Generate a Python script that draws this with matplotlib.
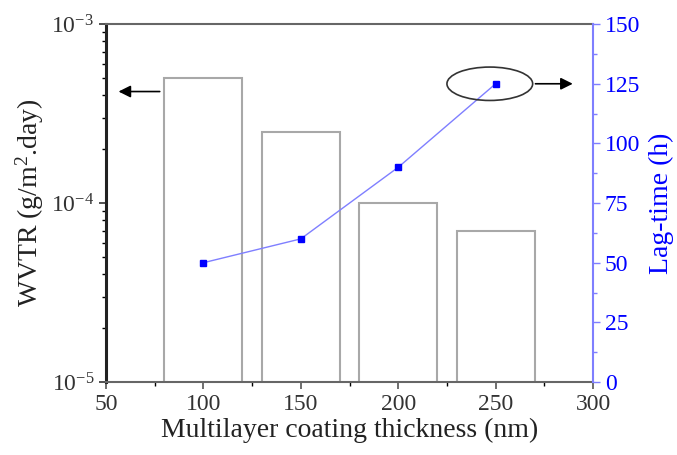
import matplotlib
matplotlib.use("Agg")
import matplotlib.pyplot as plt
from matplotlib.patches import Ellipse
from matplotlib.ticker import MultipleLocator, LogLocator, NullFormatter

plt.rcParams['font.family'] = ['Liberation Serif', 'DejaVu Serif']
plt.rcParams['mathtext.fontset'] = 'custom'
plt.rcParams['mathtext.rm'] = 'Liberation Serif'
plt.rcParams['mathtext.it'] = 'Liberation Serif:italic'
plt.rcParams['mathtext.bf'] = 'Liberation Serif:bold'

thickness = [100, 150, 200, 250]
wvtr = [5e-4, 2.5e-4, 1e-4, 7e-5]
lag_time = [50, 60, 90, 125]
x_ticks = [50, 100, 150, 200, 250, 300]
lag_ticks = [0, 25, 50, 75, 100, 125, 150]

blue = '#0000ff'
light_blue = '#7f7fff'

fig = plt.figure(figsize=(6.77, 4.55), dpi=100)
ax = fig.add_axes([0.1566, 0.1604, 0.876 - 0.1566, 0.947 - 0.1604])
ax.set_yscale('log')
ax.bar(thickness, wvtr, width=40, facecolor='white', edgecolor='#a8a8a8',
       linewidth=1.5, zorder=1)
ax.set_xlim(50, 300)
ax.set_ylim(1e-5, 1e-3)
ax.set_xticks(x_ticks)
ax.xaxis.set_minor_locator(MultipleLocator(25))
ax.yaxis.set_minor_locator(LogLocator(base=10, subs=range(2, 10)))
ax.yaxis.set_minor_formatter(NullFormatter())
ax.tick_params(axis='both', which='major', direction='out', labelsize=17, length=5, width=1.2)
ax.tick_params(axis='both', which='minor', direction='out', length=3, width=1)
ax.tick_params(axis='y', colors='#333333', labelcolor='#333333')
ax.tick_params(axis='x', colors='#555555', labelcolor='#333333')
ax.spines['left'].set_linewidth(2.2)
ax.spines['left'].set_color('#222222')
ax.spines['bottom'].set_color('#666666')
ax.spines['bottom'].set_linewidth(1.5)
ax.spines['top'].set_color('#666666')
ax.spines['top'].set_linewidth(1.5)
ax.spines['right'].set_visible(False)
ax.set_xlabel('Multilayer coating thickness (nm)', fontsize=20, color='#222222', labelpad=2)
ax.set_ylabel('WVTR (g/m$^2$.day)', fontsize=20, color='#222222', labelpad=4)

ax2 = ax.twinx()
ax2.plot(thickness, lag_time, color=light_blue, linewidth=1.0, marker='s',
         markersize=5, markerfacecolor=blue, markeredgecolor=blue, zorder=3)
ax2.set_ylim(0, 150)
ax2.set_yticks(lag_ticks)
ax2.yaxis.set_minor_locator(MultipleLocator(12.5))
ax2.tick_params(axis='y', which='major', direction='out', labelsize=17, length=5,
                width=1, colors=light_blue, labelcolor=blue)
ax2.tick_params(axis='y', which='minor', direction='out', length=3, width=1, colors=light_blue)
for s in ['left', 'top', 'bottom']:
    ax2.spines[s].set_visible(False)
ax2.spines['right'].set_color(light_blue)
ax2.spines['right'].set_linewidth(1.5)
ax2.set_ylabel('Lag-time (h)', fontsize=20, color=blue, labelpad=6)

# annotations
ell = Ellipse((247, 125), 44, 14, fill=False, edgecolor='#333333', linewidth=1.2, zorder=4)
ax2.add_patch(ell)
ax2.annotate('', xy=(291, 125), xytext=(269, 125),
             arrowprops=dict(arrowstyle='-|>', color='black', lw=1.2, mutation_scale=18))
ax.annotate('', xy=(55, 4.2e-4), xytext=(79, 4.2e-4),
            arrowprops=dict(arrowstyle='-|>', color='black', lw=1.2, mutation_scale=18))

fig.savefig('out.png', dpi=100)
